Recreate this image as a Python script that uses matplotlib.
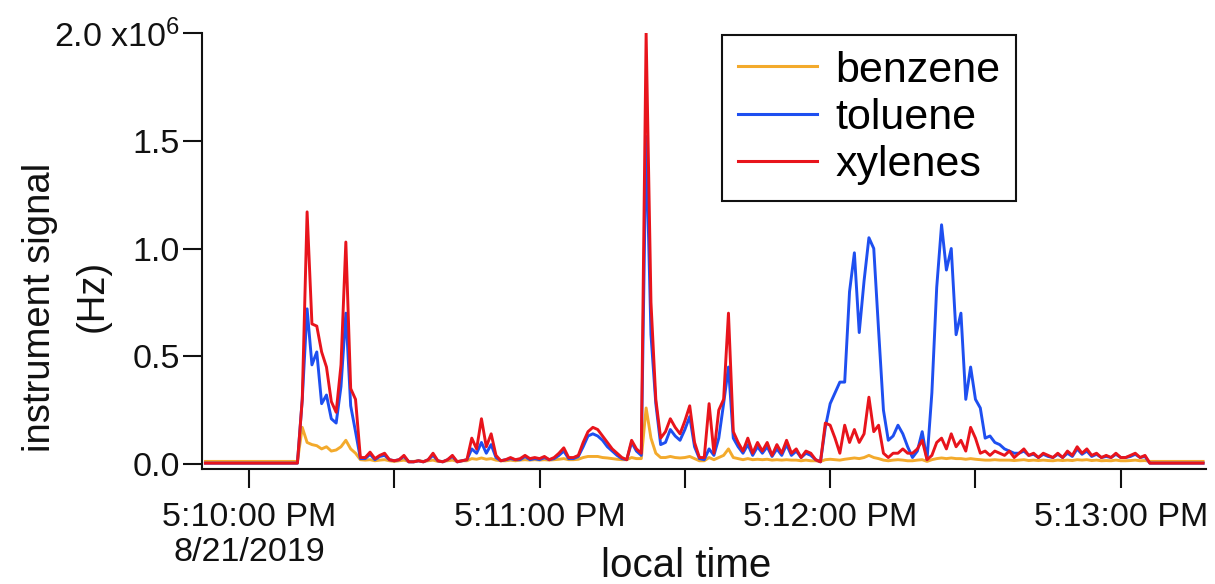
import datetime as dt
import numpy as np
import matplotlib
matplotlib.use("Agg")
import matplotlib.pyplot as plt
import matplotlib.dates as mdates
from matplotlib.ticker import FixedLocator, FixedFormatter, FuncFormatter

plt.rcParams['font.family'] = ['Liberation Sans', 'DejaVu Sans']
plt.rcParams['mathtext.fontset'] = 'custom'
plt.rcParams['mathtext.rm'] = 'Liberation Sans'
plt.rcParams['mathtext.it'] = 'Liberation Sans'

# ---- data: 1 s samples, seconds after 5:10:00 PM on 8/21/2019, signal in 10^6 Hz ----
start = dt.datetime(2019, 8, 21, 17, 10, 0)
seconds = np.arange(-9, 198)

xylenes = ([0.004] * 20 +
    [0.30, 1.17, 0.65, 0.64, 0.52, 0.45, 0.29, 0.24, 0.46, 1.03,      # 11-20
     0.35, 0.30, 0.03, 0.03, 0.055, 0.025, 0.04, 0.05, 0.02, 0.015,   # 21-30
     0.02, 0.04, 0.01, 0.01, 0.015, 0.01, 0.02, 0.05, 0.015, 0.01,    # 31-40
     0.02, 0.04, 0.01, 0.015, 0.02, 0.12, 0.07, 0.21, 0.08, 0.14,     # 41-50
     0.04, 0.015, 0.02, 0.03, 0.02, 0.025, 0.04, 0.025, 0.03, 0.025,  # 51-60
     0.035, 0.02, 0.03, 0.05, 0.075, 0.03, 0.03, 0.04, 0.10, 0.15,    # 61-70
     0.17, 0.16, 0.13, 0.10, 0.07, 0.05, 0.03, 0.02, 0.11, 0.07,      # 71-80
     0.05, 2.00, 0.75, 0.30, 0.12, 0.15, 0.21, 0.17, 0.14, 0.20,      # 81-90
     0.27, 0.10, 0.03, 0.03, 0.28, 0.05, 0.25, 0.30, 0.70, 0.15,      # 91-100
     0.10, 0.06, 0.12, 0.05, 0.10, 0.06, 0.10, 0.04, 0.09, 0.05,      # 101-110
     0.11, 0.05, 0.07, 0.03, 0.06, 0.05, 0.02, 0.01, 0.19, 0.18,      # 111-120
     0.12, 0.05, 0.18, 0.10, 0.16, 0.10, 0.14, 0.31, 0.15, 0.18,      # 121-130
     0.05, 0.03, 0.05, 0.05, 0.07, 0.05, 0.05, 0.07, 0.11, 0.02,      # 131-140
     0.04, 0.10, 0.12, 0.07, 0.14, 0.08, 0.11, 0.06, 0.17, 0.12,      # 141-150
     0.05, 0.06, 0.04, 0.06, 0.05, 0.04, 0.06, 0.03, 0.05, 0.07,      # 151-160
     0.04, 0.05, 0.03, 0.05, 0.04, 0.03, 0.05, 0.03, 0.06, 0.04,      # 161-170
     0.08, 0.05, 0.07, 0.04, 0.05, 0.03, 0.04, 0.03, 0.05, 0.03,      # 171-180
     0.03, 0.04, 0.05, 0.03, 0.04] +                                  # 181-185
    [0.004] * 12)

toluene = ([0.004] * 20 +
    [0.30, 0.72, 0.46, 0.52, 0.28, 0.32, 0.21, 0.19, 0.36, 0.70,
     0.27, 0.15, 0.025, 0.025, 0.045, 0.02, 0.035, 0.04, 0.02, 0.015,
     0.02, 0.035, 0.01, 0.01, 0.015, 0.01, 0.02, 0.04, 0.015, 0.01,
     0.02, 0.035, 0.01, 0.015, 0.02, 0.07, 0.05, 0.10, 0.05, 0.09,
     0.03, 0.015, 0.02, 0.025, 0.02, 0.02, 0.035, 0.02, 0.025, 0.02,
     0.03, 0.02, 0.025, 0.04, 0.06, 0.025, 0.025, 0.035, 0.08, 0.13,
     0.14, 0.13, 0.11, 0.08, 0.06, 0.04, 0.025, 0.02, 0.10, 0.06,
     0.04, 1.52, 0.60, 0.28, 0.09, 0.10, 0.16, 0.13, 0.11, 0.16,
     0.22, 0.08, 0.025, 0.02, 0.07, 0.04, 0.12, 0.28, 0.45, 0.12,
     0.08, 0.05, 0.09, 0.04, 0.08, 0.05, 0.08, 0.035, 0.07, 0.04,
     0.09, 0.04, 0.06, 0.03, 0.05, 0.04, 0.02, 0.01, 0.17, 0.28,
     0.33, 0.38, 0.38, 0.80, 0.98, 0.61, 0.85, 1.05, 1.00, 0.62,
     0.25, 0.11, 0.13, 0.18, 0.14, 0.08, 0.03, 0.06, 0.15, 0.02,
     0.33, 0.82, 1.11, 0.90, 1.00, 0.60, 0.70, 0.30, 0.45, 0.30,
     0.26, 0.12, 0.13, 0.10, 0.09, 0.07, 0.06, 0.05, 0.05, 0.06,
     0.04, 0.045, 0.03, 0.045, 0.035, 0.03, 0.045, 0.03, 0.05, 0.035,
     0.07, 0.045, 0.06, 0.035, 0.045, 0.03, 0.035, 0.03, 0.045, 0.03,
     0.03, 0.035, 0.045, 0.03, 0.035] +
    [0.004] * 12)

benzene = ([0.012] * 20 +
    [0.17, 0.10, 0.09, 0.085, 0.07, 0.08, 0.06, 0.065, 0.08, 0.11,
     0.07, 0.05, 0.02, 0.018, 0.02, 0.015, 0.018, 0.02, 0.015, 0.012,
     0.015, 0.018, 0.012, 0.012, 0.015, 0.012, 0.015, 0.018, 0.012, 0.012,
     0.015, 0.018, 0.012, 0.015, 0.015, 0.025, 0.022, 0.028, 0.022, 0.025,
     0.018, 0.015, 0.015, 0.018, 0.015, 0.018, 0.02, 0.018, 0.02, 0.018,
     0.02, 0.018, 0.02, 0.022, 0.025, 0.02, 0.02, 0.022, 0.03, 0.035,
     0.035, 0.035, 0.03, 0.028, 0.025, 0.022, 0.02, 0.02, 0.03, 0.025,
     0.025, 0.26, 0.12, 0.05, 0.03, 0.03, 0.035, 0.03, 0.028, 0.03,
     0.035, 0.025, 0.015, 0.015, 0.03, 0.02, 0.03, 0.04, 0.07, 0.03,
     0.025, 0.02, 0.025, 0.02, 0.022, 0.02, 0.022, 0.018, 0.02, 0.018,
     0.02, 0.018, 0.018, 0.015, 0.018, 0.015, 0.015, 0.012, 0.02, 0.022,
     0.02, 0.018, 0.022, 0.025, 0.028, 0.025, 0.03, 0.04, 0.03, 0.025,
     0.018, 0.015, 0.018, 0.02, 0.018, 0.015, 0.015, 0.018, 0.02, 0.012,
     0.02, 0.025, 0.028, 0.025, 0.028, 0.025, 0.025, 0.022, 0.025, 0.022,
     0.02, 0.018, 0.018, 0.02, 0.018, 0.018, 0.018, 0.016, 0.018, 0.02,
     0.016, 0.018, 0.016, 0.018, 0.016, 0.015, 0.018, 0.016, 0.018, 0.016,
     0.02, 0.018, 0.02, 0.016, 0.018, 0.015, 0.016, 0.015, 0.018, 0.015,
     0.015, 0.016, 0.018, 0.015, 0.016] +
    [0.012] * 12)

series_names = ["benzene", "toluene", "xylenes"]
series_colors = ["#F3AA2C", "#1E4FF0", "#E8141C"]
y_ticks = [0.0, 0.5, 1.0, 1.5, 2.0]
y_tick_labels = ["0.0", "0.5", "1.0", "1.5", "2.0 x10$^{6}$"]

# ---- figure ----
W, H = 1215, 584
ink = "#111111"
fig = plt.figure(figsize=(W / 100, H / 100), dpi=100)
ax = fig.add_axes([202 / W, 1 - 469 / H, (1206 - 202) / W, (469 - 33) / H])

t0 = mdates.date2num(start)
xnum = t0 + seconds / 86400.0

for name, vals, col in zip(series_names, [benzene, toluene, xylenes], series_colors):
    ax.plot(xnum, vals, color=col, lw=2.1, label=name, solid_joinstyle='round')

ax.set_xlim(t0 - 9.7 / 86400, t0 + 197.6 / 86400)
ax.set_ylim(-0.0232, 2.0)

for s in ("top", "right"):
    ax.spines[s].set_visible(False)
for s in ("left", "bottom"):
    ax.spines[s].set_linewidth(1.5)
    ax.spines[s].set_color(ink)

ax.yaxis.set_major_locator(FixedLocator(y_ticks))
ax.yaxis.set_major_formatter(FixedFormatter(y_tick_labels))


def time_label(x, pos):
    d = mdates.num2date(x)
    hour = d.hour % 12 or 12
    s = f"{hour}:{d.minute:02d}:{d.second:02d} {'PM' if d.hour >= 12 else 'AM'}"
    if d.minute == 10:
        s += f"\n{d.month}/{d.day}/{d.year}"
    return s


ax.xaxis.set_major_locator(mdates.MinuteLocator())
ax.xaxis.set_minor_locator(mdates.SecondLocator(bysecond=[30]))
ax.xaxis.set_major_formatter(FuncFormatter(time_label))

ax.tick_params(axis="y", direction="out", length=14, width=1.5, pad=2,
               labelsize=24.5, colors=ink)
ax.tick_params(axis="x", which="both", direction="out", length=14, width=1.5,
               pad=9.5, labelsize=24.5, colors=ink)

fig.text(40 / W, 1 - 307 / H, "instrument signal", rotation=90, ha="center",
         va="center", fontsize=27.5, color=ink)
fig.text(93 / W, 1 - 296 / H, "(Hz)", rotation=90, ha="center",
         va="center", fontsize=27.5, color=ink)
fig.text(686 / W, 1 - 566 / H, "local time", ha="center", va="center",
         fontsize=29, color=ink)

leg = ax.legend(loc="upper left", bbox_to_anchor=(722 / W, 1 - 35 / H),
                bbox_transform=fig.transFigure, fontsize=31, frameon=True,
                fancybox=False, framealpha=1, edgecolor=ink,
                handlelength=1.85, handletextpad=0.42, borderpad=0.36,
                labelspacing=0.17, borderaxespad=0)
leg.get_frame().set_linewidth(1.5)
for line in leg.get_lines():
    line.set_linewidth(2.2)

fig.savefig("out.png", dpi=100)
